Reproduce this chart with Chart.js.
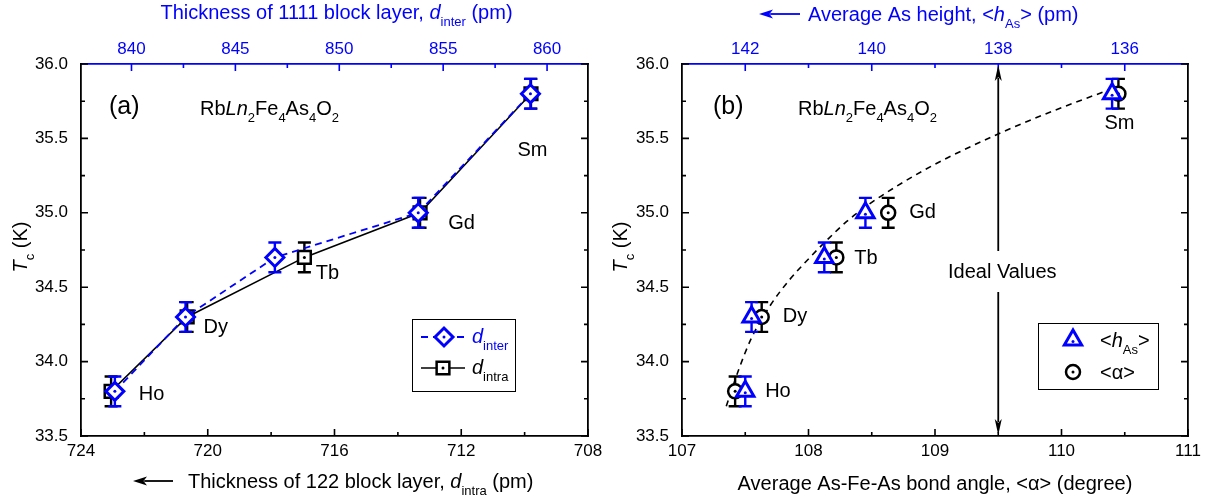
<!DOCTYPE html>
<html>
<head>
<meta charset="utf-8">
<script src="https://cdn.jsdelivr.net/npm/chart.js@4.4.1/dist/chart.umd.min.js"></script>
<style>
  body { margin: 0; background: #fff; }
  #wrap { position: relative; width: 1215px; height: 499px; }
  canvas { position: absolute; top: 0; }
</style>
</head>
<body>
<div id="wrap">
  <canvas id="panelA" width="615" height="499" style="left:0"></canvas>
  <canvas id="panelB" width="615" height="499" style="left:600px"></canvas>
</div>
<script>
// values
var rareEarth = ['Ho', 'Dy', 'Tb', 'Gd', 'Sm'];
var tc = [33.8, 34.3, 34.7, 35.0, 35.8];
var tcErr = [0.1, 0.1, 0.1, 0.1, 0.1];
var dInter = [839.2, 842.6, 846.9, 853.8, 859.2];
var dIntra = [723.05, 720.65, 716.95, 713.3, 709.8];
var bondAngle = [107.42, 107.63, 108.22, 108.63, 110.45];
var hAs = [142.0, 141.9, 140.75, 140.1, 136.2];
// dashed guide curve in panel (b)
var fitAngle = [107.35, 107.45, 107.55, 107.70, 107.85, 108.00, 108.15, 108.30, 108.50, 108.70, 108.90, 109.10, 109.50, 109.95, 110.42];
var fitTc = [33.70, 33.95, 34.16, 34.38, 34.55, 34.69, 34.82, 34.94, 35.07, 35.18, 35.28, 35.37, 35.53, 35.69, 35.84];
var idealAngle = 109.5;

// tick labels
var tcTicks = [33.5, 34.0, 34.5, 35.0, 35.5, 36.0];
var dIntraTicks = [724, 720, 716, 712, 708];
var dInterTicks = [840, 845, 850, 855, 860];
var angleTicks = [107, 108, 109, 110, 111];
var hAsTicks = [142, 140, 138, 136];

var BLUE = '#0000ff';
var FONT = '"Liberation Sans", Arial, sans-serif';
Chart.defaults.font.family = FONT;
Chart.defaults.color = '#000';

function xy(xs, ys) {
  return xs.map(function (x, i) { return { x: x, y: ys[i] }; });
}

function makeAxis(o) {
  return {
    type: 'linear', position: o.position, min: o.min, max: o.max, reverse: !!o.reverse,
    grid: { display: false, drawTicks: false },
    border: { display: true, color: o.color || '#000', width: 1.8 },
    ticks: {
      display: o.labels !== false, color: o.color || '#000', padding: o.padding || 0,
      autoSkip: false, maxRotation: 0, font: { size: 17 },
      callback: o.format || function (v) { return v; }
    },
    afterBuildTicks: function (scale) {
      if (o.ticks) scale.ticks = o.ticks.map(function (v) { return { value: v }; });
    },
    afterFit: function (scale) {
      if (scale.isHorizontal()) scale.height = o.size; else scale.width = o.size;
    }
  };
}

function fontFor(st, size) {
  if (st === 's') return Math.round(size * 0.65) + 'px ' + FONT;
  if (st === 'i') return 'italic ' + size + 'px ' + FONT;
  return size + 'px ' + FONT;
}

// parts: [text, style] with style '' | 'i' (italic) | 's' (subscript)
function richText(ctx, parts, x, y, size, color, align) {
  var widths = parts.map(function (p) { ctx.font = fontFor(p[1], size); return ctx.measureText(p[0]).width; });
  var total = widths.reduce(function (a, b) { return a + b; }, 0);
  var cx = align === 'center' ? x - total / 2 : x;
  ctx.textAlign = 'left';
  ctx.textBaseline = 'alphabetic';
  ctx.fillStyle = color;
  parts.forEach(function (p, i) {
    ctx.font = fontFor(p[1], size);
    ctx.fillText(p[0], cx, y + (p[1] === 's' ? size * 0.33 : 0));
    cx += widths[i];
  });
  return total;
}

function arrow(ctx, x1, y1, x2, y2, color, len, half) {
  var a = Math.atan2(y2 - y1, x2 - x1);
  ctx.save();
  ctx.strokeStyle = color; ctx.fillStyle = color; ctx.lineWidth = 1.8;
  ctx.beginPath(); ctx.moveTo(x1, y1);
  ctx.lineTo(x2 - Math.cos(a) * len * 0.8, y2 - Math.sin(a) * len * 0.8); ctx.stroke();
  ctx.beginPath(); ctx.moveTo(x2, y2);
  ctx.lineTo(x2 - Math.cos(a) * len - Math.sin(a) * half, y2 - Math.sin(a) * len + Math.cos(a) * half);
  ctx.lineTo(x2 - Math.cos(a) * len * 0.75, y2 - Math.sin(a) * len * 0.75);
  ctx.lineTo(x2 - Math.cos(a) * len + Math.sin(a) * half, y2 - Math.sin(a) * len - Math.cos(a) * half);
  ctx.closePath(); ctx.fill();
  ctx.restore();
}

function inwardTicks(chart, id, majors, color, both) {
  var s = chart.scales[id], a = chart.chartArea, ctx = chart.ctx;
  var step = Math.abs(majors[1] - majors[0]);
  var lo = Math.min(s.min, s.max), hi = Math.max(s.min, s.max);
  var minors = [];
  majors.forEach(function (m) {
    [m - step / 2, m + step / 2].forEach(function (v) {
      if (v > lo + 1e-6 && v < hi - 1e-6 && minors.indexOf(v) < 0) minors.push(v);
    });
  });
  ctx.save();
  ctx.strokeStyle = color; ctx.lineWidth = 1.6;
  ctx.beginPath();
  [[majors, 7], [minors, 4]].forEach(function (set) {
    set[0].forEach(function (v) {
      var p = s.getPixelForValue(v), L = set[1];
      if (s.isHorizontal()) {
        if (s.position === 'bottom') { ctx.moveTo(p, a.bottom); ctx.lineTo(p, a.bottom - L); }
        else { ctx.moveTo(p, a.top); ctx.lineTo(p, a.top + L); }
      } else {
        ctx.moveTo(a.left, p); ctx.lineTo(a.left + L, p);
        if (both) { ctx.moveTo(a.right, p); ctx.lineTo(a.right - L, p); }
      }
    });
  });
  ctx.stroke();
  ctx.restore();
}

// error bars under each marker set, centre dots on top
var markerExtras = {
  id: 'markerExtras',
  beforeDatasetDraw: function (chart, args) {
    var ds = chart.data.datasets[args.index];
    if (!ds.errors) return;
    var y = chart.scales.y, ctx = chart.ctx;
    ctx.save();
    ctx.strokeStyle = ds.pointBorderColor; ctx.lineWidth = 2.4;
    ctx.beginPath();
    args.meta.data.forEach(function (pt, i) {
      var y1 = y.getPixelForValue(ds.data[i].y + ds.errors[i]);
      var y2 = y.getPixelForValue(ds.data[i].y - ds.errors[i]);
      ctx.moveTo(pt.x, y1); ctx.lineTo(pt.x, y2);
      ctx.moveTo(pt.x - 6.5, y1); ctx.lineTo(pt.x + 6.5, y1);
      ctx.moveTo(pt.x - 6.5, y2); ctx.lineTo(pt.x + 6.5, y2);
    });
    ctx.stroke();
    ctx.restore();
  },
  afterDatasetDraw: function (chart, args) {
    var ds = chart.data.datasets[args.index];
    if (!ds.errors) return;
    var ctx = chart.ctx;
    ctx.save();
    ctx.fillStyle = ds.pointBorderColor;
    args.meta.data.forEach(function (pt) {
      ctx.beginPath(); ctx.arc(pt.x, pt.y + (ds.pointStyle === 'triangle' ? 1.5 : 0), 1.5, 0, Math.PI * 2); ctx.fill();
    });
    ctx.restore();
  }
};

function yTitle(ctx) {
  ctx.save();
  ctx.translate(20, 247);
  ctx.rotate(-Math.PI / 2);
  richText(ctx, [['T', 'i'], ['c', 's'], [' (K)', '']], 0, 7, 20, '#000', 'center');
  ctx.restore();
}

function formula(ctx, x, y) {
  richText(ctx, [['Rb', ''], ['Ln', 'i'], ['2', 's'], ['Fe', ''], ['4', 's'], ['As', ''], ['4', 's'], ['O', ''], ['2', 's']], x, y, 20, '#000', 'left');
}

function pointLabels(chart, meta, offsets) {
  var ctx = chart.ctx;
  ctx.save();
  ctx.font = '20px ' + FONT; ctx.fillStyle = '#000';
  ctx.textAlign = 'left'; ctx.textBaseline = 'middle';
  meta.data.forEach(function (pt, i) {
    ctx.fillText(rareEarth[i], pt.x + offsets[i][0], pt.y + offsets[i][1]);
  });
  ctx.restore();
}

function legendMarker(ctx, style, radius, bw, color, x, y) {
  ctx.save();
  ctx.fillStyle = '#fff'; ctx.strokeStyle = color; ctx.lineWidth = bw;
  Chart.helpers.drawPoint(ctx, { pointStyle: style, radius: radius, borderWidth: bw, rotation: 0 }, x, y);
  ctx.fillStyle = color;
  ctx.beginPath(); ctx.arc(x, y + (style === 'triangle' ? 1.5 : 0), 1.5, 0, Math.PI * 2); ctx.fill();
  ctx.restore();
}

var decorA = {
  id: 'decorA',
  afterDraw: function (chart) {
    var ctx = chart.ctx, a = chart.chartArea;
    inwardTicks(chart, 'y', tcTicks, '#000', true);
    inwardTicks(chart, 'xb', dIntraTicks, '#000');
    inwardTicks(chart, 'xt', dInterTicks, BLUE);
    yTitle(ctx);
    richText(ctx, [['Thickness of 1111 block layer, ', ''], ['d', 'i'], ['inter', 's'], [' (pm)', '']], (a.left + a.right) / 2 + 2, 19, 20, BLUE, 'center');
    arrow(ctx, 173, 481, 133, 481, '#000', 14, 4.5);
    richText(ctx, [['Thickness of 122 block layer, ', ''], ['d', 'i'], ['intra', 's'], [' (pm)', '']], 188, 488, 20, '#000', 'left');
    ctx.save();
    ctx.font = '25px ' + FONT; ctx.fillStyle = '#000'; ctx.textBaseline = 'middle'; ctx.textAlign = 'left';
    ctx.fillText('(a)', 109, 107);
    ctx.restore();
    formula(ctx, 200, 115);
    pointLabels(chart, chart.getDatasetMeta(1), [[24, 3], [18, 11], [41, 16], [30, 11], [-13, 57]]);
    // legend
    ctx.save();
    ctx.strokeStyle = '#000'; ctx.lineWidth = 1;
    ctx.strokeRect(412.5, 319.5, 103, 72);
    ctx.strokeStyle = BLUE; ctx.lineWidth = 1.8; ctx.setLineDash([7, 5]);
    ctx.beginPath(); ctx.moveTo(421, 337); ctx.lineTo(467, 337); ctx.stroke();
    ctx.setLineDash([]);
    ctx.strokeStyle = '#000'; ctx.lineWidth = 1.5;
    ctx.beginPath(); ctx.moveTo(421, 368); ctx.lineTo(465, 368); ctx.stroke();
    ctx.restore();
    legendMarker(ctx, 'rectRot', 9, 3, BLUE, 444, 337);
    legendMarker(ctx, 'rect', 9, 2.5, '#000', 443, 368);
    richText(ctx, [['d', 'i'], ['inter', 's']], 472, 343, 20, BLUE, 'left');
    richText(ctx, [['d', 'i'], ['intra', 's']], 472, 374, 20, '#000', 'left');
  }
};

var decorB = {
  id: 'decorB',
  afterDraw: function (chart) {
    var ctx = chart.ctx, a = chart.chartArea;
    inwardTicks(chart, 'y', tcTicks, '#000', true);
    inwardTicks(chart, 'xb', angleTicks, '#000');
    inwardTicks(chart, 'xt', hAsTicks, BLUE);
    yTitle(ctx);
    arrow(ctx, 200, 14, 159, 14, BLUE, 14, 4.5);
    richText(ctx, [['Average As height, <', ''], ['h', 'i'], ['As', 's'], ['> (pm)', '']], 208, 21, 20, BLUE, 'left');
    richText(ctx, [['Average As-Fe-As bond angle, <\u03b1> (degree)', '']], (a.left + a.right) / 2, 490, 20, '#000', 'center');
    ctx.save();
    ctx.font = '25px ' + FONT; ctx.fillStyle = '#000'; ctx.textBaseline = 'middle'; ctx.textAlign = 'left';
    ctx.fillText('(b)', 113, 107);
    ctx.restore();
    formula(ctx, 198, 115);
    pointLabels(chart, chart.getDatasetMeta(1), [[30, 0], [21, 0], [18, 1], [21, 0], [-14, 30]]);
    // "Ideal Values" double arrow
    var xi = chart.scales.xb.getPixelForValue(idealAngle);
    arrow(ctx, xi, 251, xi, a.top + 1, '#000', 16, 3.5);
    arrow(ctx, xi, 292, xi, a.bottom - 1, '#000', 16, 3.5);
    ctx.save();
    ctx.font = '20px ' + FONT; ctx.fillStyle = '#000'; ctx.textAlign = 'center'; ctx.textBaseline = 'middle';
    ctx.fillText('Ideal Values', xi + 4, 272);
    ctx.restore();
    // legend
    ctx.save();
    ctx.strokeStyle = '#000'; ctx.lineWidth = 1;
    ctx.strokeRect(438.5, 323.5, 120, 66);
    ctx.restore();
    legendMarker(ctx, 'triangle', 10, 3, BLUE, 473, 340);
    legendMarker(ctx, 'circle', 7, 2.5, '#000', 473, 372);
    richText(ctx, [['<', ''], ['h', 'i'], ['As', 's'], ['>', '']], 500, 347, 20, '#000', 'left');
    richText(ctx, [['<\u03b1>', '']], 500, 379, 20, '#000', 'left');
  }
};

var common = {
  responsive: false,
  animation: false,
  layout: { padding: 0 },
  plugins: { legend: { display: false }, tooltip: { enabled: false } }
};

function tcFormat(v) { return v.toFixed(1); }

new Chart(document.getElementById('panelA'), {
  type: 'line',
  data: {
    datasets: [{
      label: 'd_intra',
      data: xy(dIntra, tc), errors: tcErr,
      xAxisID: 'xb', yAxisID: 'y',
      borderColor: '#000', borderWidth: 1.5,
      pointStyle: 'rect', pointRadius: 9, pointBorderWidth: 2.5,
      pointBorderColor: '#000', pointBackgroundColor: '#fff',
      order: 2
    }, {
      label: 'd_inter',
      data: xy(dInter, tc), errors: tcErr,
      xAxisID: 'xt', yAxisID: 'y',
      borderColor: BLUE, borderWidth: 1.8, borderDash: [7, 5],
      pointStyle: 'rectRot', pointRadius: 9, pointBorderWidth: 3,
      pointBorderColor: BLUE, pointBackgroundColor: '#fff',
      order: 1
    }]
  },
  options: Object.assign({}, common, {
    scales: {
      xb: makeAxis({ position: 'bottom', min: 708, max: 724, reverse: true, ticks: dIntraTicks, size: 63, padding: 5 }),
      xt: makeAxis({ position: 'top', min: 837.57, max: 861.97, ticks: dInterTicks, size: 64, color: BLUE, padding: 4 }),
      y: makeAxis({ position: 'left', min: 33.5, max: 36.0, ticks: tcTicks, size: 81, padding: 13, format: tcFormat }),
      y2: makeAxis({ position: 'right', min: 33.5, max: 36.0, size: 27, labels: false })
    }
  }),
  plugins: [markerExtras, decorA]
});

new Chart(document.getElementById('panelB'), {
  type: 'line',
  data: {
    datasets: [{
      label: 'fit',
      data: xy(fitAngle, fitTc),
      xAxisID: 'xb', yAxisID: 'y',
      borderColor: '#000', borderWidth: 1.6, borderDash: [6, 5],
      pointRadius: 0, cubicInterpolationMode: 'monotone',
      order: 3
    }, {
      label: 'alpha',
      data: xy(bondAngle, tc), errors: tcErr,
      xAxisID: 'xb', yAxisID: 'y', showLine: false,
      pointStyle: 'circle', pointRadius: 7, pointBorderWidth: 2.5,
      pointBorderColor: '#000', pointBackgroundColor: '#fff',
      order: 2
    }, {
      label: 'hAs',
      data: xy(hAs, tc), errors: tcErr,
      xAxisID: 'xt', yAxisID: 'y', showLine: false,
      pointStyle: 'triangle', pointRadius: 10, pointBorderWidth: 3,
      pointBorderColor: BLUE, pointBackgroundColor: '#fff',
      order: 1
    }]
  },
  options: Object.assign({}, common, {
    scales: {
      xb: makeAxis({ position: 'bottom', min: 107, max: 111, ticks: angleTicks, size: 63, padding: 5 }),
      xt: makeAxis({ position: 'top', min: 135, max: 143, reverse: true, ticks: hAsTicks, size: 64, color: BLUE, padding: 4 }),
      y: makeAxis({ position: 'left', min: 33.5, max: 36.0, ticks: tcTicks, size: 82, padding: 13, format: tcFormat }),
      y2: makeAxis({ position: 'right', min: 33.5, max: 36.0, size: 27, labels: false })
    }
  }),
  plugins: [markerExtras, decorB]
});
</script>
</body>
</html>
